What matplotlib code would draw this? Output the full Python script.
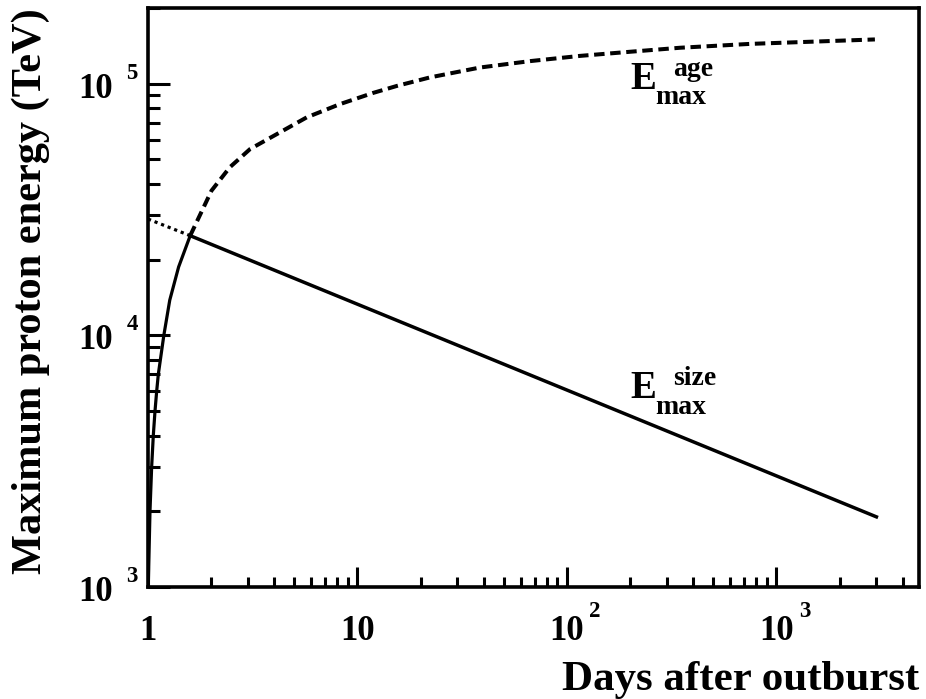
import matplotlib
matplotlib.use("Agg")
import matplotlib.pyplot as plt
import numpy as np
from matplotlib.ticker import LogLocator, NullFormatter

# Age-limited maximum energy (TeV) versus days after the outburst
t_age = [1.003, 1.022, 1.041, 1.06, 1.08, 1.10, 1.12, 1.19, 1.27, 1.40, 1.59,
         2.01, 2.46, 3.07, 4.11, 5.72, 8.25, 11.9, 15.4, 22.2, 38.4, 66.6,
         115, 200, 346, 747, 2950]
e_age = [1.0e3, 2.0e3, 3.0e3, 4.0e3, 5.0e3, 6.0e3, 7.0e3, 1.0e4, 1.38e4, 1.87e4, 2.49e4,
         3.76e4, 4.66e4, 5.5e4, 6.3e4, 7.35e4, 8.3e4, 9.2e4, 9.8e4, 1.06e5, 1.16e5, 1.23e5,
         1.29e5, 1.34e5, 1.39e5, 1.44e5, 1.50e5]

# Size-limited maximum energy (TeV)
t_size = [1.0, 1.59, 3000]
e_size = [2.9e4, 2.49e4, 1.9e3]

# Crossing day where the two limits meet
t_cross = 1.59

x_major = [1, 10, 100, 1000]
x_labels = [("1", ""), ("10", ""), ("10", "2"), ("10", "3")]
y_major = [1e3, 1e4, 1e5]
y_labels = [("10", "3"), ("10", "4"), ("10", "5")]

# Curve labels: (anchor day, anchor energy, subscript, superscript)
curve_labels = [(200, 9.55e4, "max", "age"), (200, 5.62e3, "max", "size")]

FONT = "Liberation Serif"
plt.rcParams["font.family"] = FONT
plt.rcParams["font.weight"] = "bold"

fig = plt.figure(figsize=(9.26, 6.99), dpi=100)
ax = fig.add_axes([148 / 926, 1 - 587 / 699, (919 - 148) / 926, (587 - 8) / 699])

ta = np.array(t_age)
ea = np.array(e_age)
solid = ta <= t_cross
dashed = ta >= t_cross
ax.plot(ta[solid], ea[solid], color="black", lw=2.3)
ax.plot(ta[dashed], ea[dashed], color="black", lw=2.9, dashes=(2.6, 1.4))

ts = np.array(t_size)
es = np.array(e_size)
ax.plot(ts[ts <= t_cross], es[ts <= t_cross], color="black", lw=2.3, dashes=(1.0, 1.2))
ax.plot(ts[ts >= t_cross], es[ts >= t_cross], color="black", lw=2.5)

ax.set_xscale("log")
ax.set_yscale("log")
ax.set_xlim(1, 4790)
ax.set_ylim(1e3, 2.0e5)

for s in ax.spines.values():
    s.set_linewidth(2.6)

ax.xaxis.set_major_locator(LogLocator(base=10, numticks=10))
ax.xaxis.set_minor_locator(LogLocator(base=10, subs=np.arange(2, 10), numticks=20))
ax.yaxis.set_major_locator(LogLocator(base=10, numticks=10))
ax.yaxis.set_minor_locator(LogLocator(base=10, subs=np.arange(2, 10), numticks=20))
for axis in (ax.xaxis, ax.yaxis):
    axis.set_major_formatter(NullFormatter())
    axis.set_minor_formatter(NullFormatter())
ax.tick_params(axis="both", which="both", direction="in", top=False, right=False, width=2.2)
ax.tick_params(axis="x", which="major", length=14.5)
ax.tick_params(axis="x", which="minor", length=7.5)
ax.tick_params(axis="y", which="major", length=16)
ax.tick_params(axis="y", which="minor", length=8.5)

# Tick labels drawn as base plus raised exponent
for v, (base, ex) in zip(x_major, x_labels):
    ax.annotate(base, xy=(v, 0), xycoords=("data", "axes fraction"),
                xytext=(0, -38), textcoords="offset points",
                ha="center", va="baseline", fontsize=25, fontweight="bold")
    if ex:
        ax.annotate(ex, xy=(v, 0), xycoords=("data", "axes fraction"),
                    xytext=(16, -21.6), textcoords="offset points",
                    ha="left", va="baseline", fontsize=16.5, fontweight="bold")

for v, (base, ex) in zip(y_major, y_labels):
    ax.annotate(base, xy=(0, v), xycoords=("axes fraction", "data"),
                xytext=(-25, -10), textcoords="offset points",
                ha="right", va="baseline", fontsize=25, fontweight="bold")
    ax.annotate(ex, xy=(0, v), xycoords=("axes fraction", "data"),
                xytext=(-15.5, 3.6), textcoords="offset points",
                ha="left", va="baseline", fontsize=16.5, fontweight="bold")

# E with stacked subscript / superscript
for x0, y0, sub, sup in curve_labels:
    ax.text(x0, y0, "E", fontsize=28, fontweight="bold", ha="left", va="baseline")
    ax.annotate(sub, xy=(x0, y0), xytext=(18, -11), textcoords="offset points",
                fontsize=20, fontweight="bold", ha="left", va="baseline")
    ax.annotate(sup, xy=(x0, y0), xytext=(31, 9.5), textcoords="offset points",
                fontsize=20, fontweight="bold", ha="left", va="baseline")

# Axis titles
fig.text(919 / 926, 1 - 690 / 699, "Days after outburst", ha="right", va="baseline",
         fontsize=31, fontweight="bold")
fig.text(12 / 926, 1 - 8 / 699, "Maximum proton energy (TeV)", rotation=90,
         ha="right", va="top", fontsize=30.5, fontweight="bold",
         rotation_mode="anchor")

fig.savefig("out.png", dpi=100)
